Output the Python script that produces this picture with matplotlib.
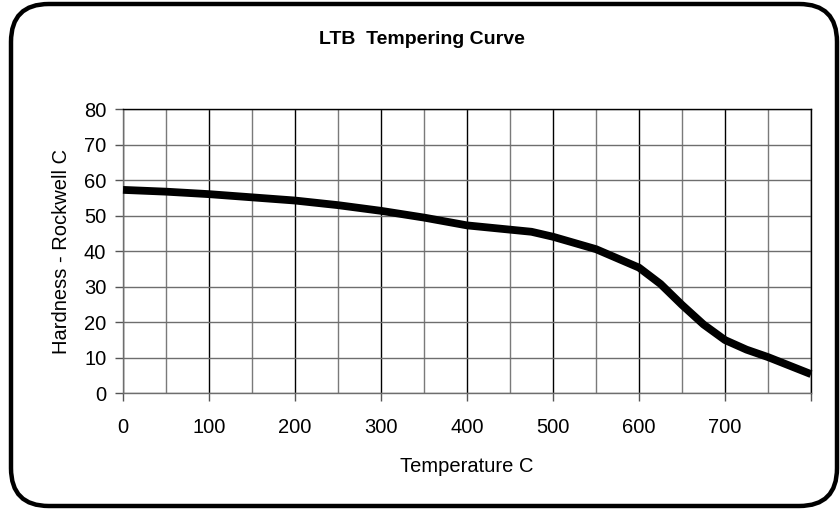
import numpy as np
import matplotlib.pyplot as plt
from matplotlib.patches import FancyBboxPatch

plt.rcParams['font.family'] = ['Liberation Sans', 'DejaVu Sans']

# Tempering data
temp_c = [0, 50, 100, 150, 200, 250, 300, 350, 400, 450, 475, 500, 550,
          600, 625, 650, 675, 700, 725, 750, 800]
hardness_hrc = [57.3, 56.8, 56.1, 55.2, 54.3, 53.0, 51.4, 49.5, 47.3, 46.1, 45.5,
                44.1, 40.6, 35.4, 30.8, 24.9, 19.4, 15.0, 12.3, 10.2, 5.4]
x_ticks = [0, 100, 200, 300, 400, 500, 600, 700, 800]
x_tick_labels = ['0', '100', '200', '300', '400', '500', '600', '700', '']

fig = plt.figure(figsize=(8.4, 5.09), dpi=100)

# rounded frame around the whole chart
frame = FancyBboxPatch((11 / 840, 3 / 509), 826 / 840, 502 / 509,
                       boxstyle="round,pad=0,rounding_size=0.045",
                       transform=fig.transFigure, fill=False,
                       edgecolor='black', linewidth=3.2, mutation_aspect=840 / 509)
fig.patches.append(frame)

ax = fig.add_axes([123 / 840, 1 - 393.3 / 509, 688 / 840, 284 / 509])

ax.set_xlim(0, 800)
ax.set_ylim(0, 80)
ax.set_xticks(x_ticks)
ax.set_xticklabels(x_tick_labels)
ax.set_xticks(np.arange(50, 800, 100), minor=True)
ax.set_yticks(np.arange(0, 81, 10))

ax.grid(which='major', axis='x', color='black', linewidth=1.0)
ax.grid(which='minor', axis='x', color='#7a7a7a', linewidth=1.0)
ax.grid(which='major', axis='y', color='#6e6e6e', linewidth=1.0)
ax.set_axisbelow(True)

ax.tick_params(axis='both', which='major', direction='out', length=6, width=1,
               color='#555555', labelsize=14.5)
ax.tick_params(axis='x', which='major', pad=12)
ax.tick_params(axis='y', which='major', pad=6)
ax.tick_params(axis='x', which='minor', length=0)

for side in ['top', 'right']:
    ax.spines[side].set_color('black')
    ax.spines[side].set_linewidth(1.0)
for side in ['left', 'bottom']:
    ax.spines[side].set_color('#6e6e6e')
    ax.spines[side].set_linewidth(1.0)

ax.plot(temp_c, hardness_hrc, color='black', linewidth=5.6,
        solid_joinstyle='round', solid_capstyle='butt', clip_on=False, zorder=3)

ax.set_xlabel('Temperature C', fontsize=14.5, labelpad=14)
ax.set_ylabel('Hardness - Rockwell C', fontsize=14.5, labelpad=9)
fig.text(422 / 840, 1 - 39 / 509, 'LTB  Tempering Curve', ha='center', va='center',
         fontsize=14, fontweight='bold')

fig.savefig('out.png', dpi=100)
